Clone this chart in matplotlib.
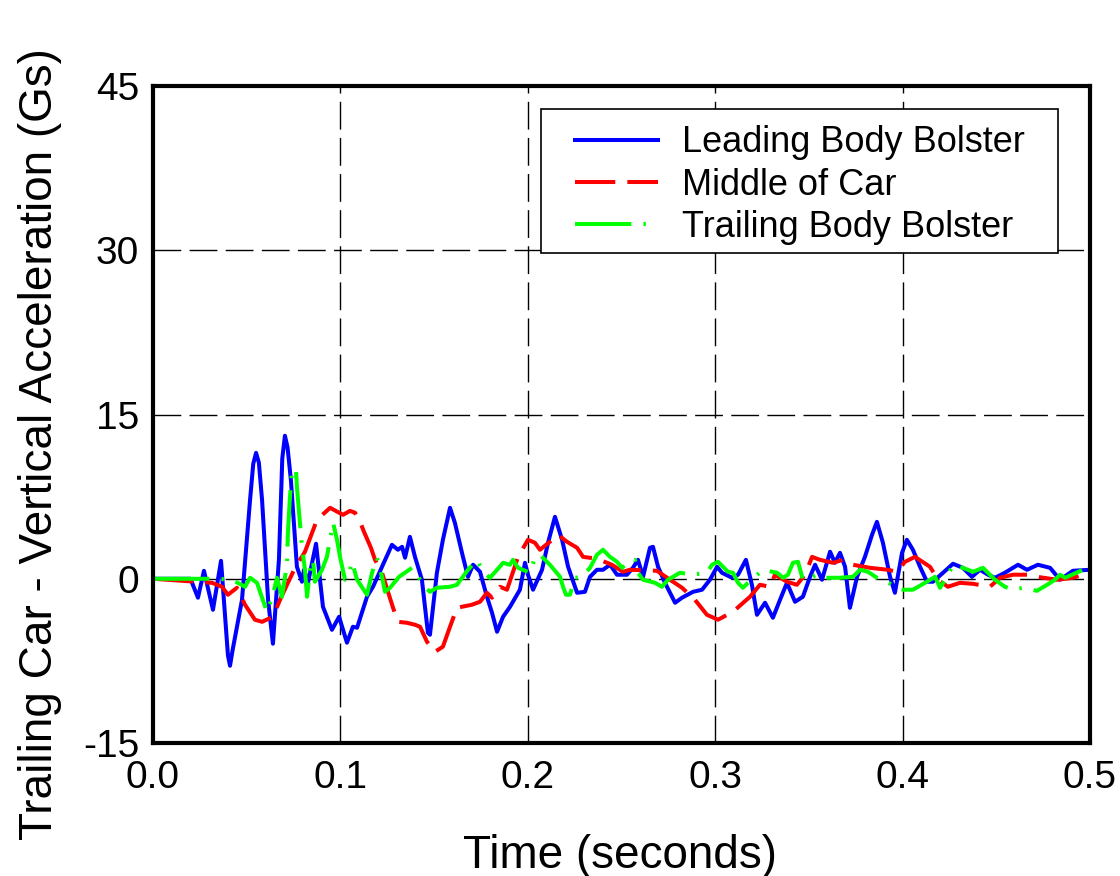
import matplotlib
matplotlib.use("Agg")
import matplotlib.pyplot as plt
from matplotlib.patches import Rectangle

plt.rcParams['font.family'] = ['Liberation Sans', 'DejaVu Sans']

# --- measured signals (time in s, acceleration in Gs)
lead_t = [0.0, 0.020, 0.0240, 0.0272, 0.0320, 0.0363, 0.0385, 0.0400, 0.0411, 0.0425,
          0.0475, 0.0518, 0.0535, 0.0550, 0.0565,
          0.0582, 0.0614, 0.0640, 0.0672, 0.0690, 0.0704, 0.0718, 0.0736, 0.0768, 0.0795,
          0.0806, 0.0827,
          0.0870, 0.0907, 0.0955, 0.0993, 0.1035, 0.1067, 0.1089, 0.1142, 0.1174, 0.1222,
          0.1275, 0.1307, 0.1329, 0.1345, 0.1371, 0.1398, 0.1435, 0.1467, 0.1478, 0.1515,
          0.1547, 0.1585, 0.1611, 0.1654, 0.1681, 0.1708, 0.1745, 0.1782, 0.1809, 0.1836,
          0.1868, 0.1905, 0.1958, 0.1985, 0.2001, 0.2028, 0.2076, 0.2108, 0.2145, 0.2183,
          0.2215, 0.2263, 0.2305, 0.2332, 0.2369, 0.2401, 0.2439, 0.2476, 0.2529, 0.2561,
          0.2588, 0.2615, 0.2652, 0.2668, 0.2695, 0.2732, 0.2786, 0.2823, 0.2882, 0.2930,
          0.2972, 0.3010, 0.3036, 0.3090, 0.3122, 0.3164, 0.3196, 0.3223, 0.3266, 0.3308,
          0.3346, 0.3383, 0.3426, 0.3468, 0.3506, 0.3533, 0.3570, 0.3613, 0.3639, 0.3666,
          0.3693, 0.3719, 0.3757, 0.3799, 0.3837, 0.3863, 0.3895, 0.3933, 0.3959, 0.3997,
          0.4023, 0.4055, 0.4093, 0.4130, 0.4162, 0.4216, 0.4269, 0.4322, 0.4370, 0.4413,
          0.4456, 0.4493, 0.4546, 0.4616, 0.4664, 0.4722, 0.4787, 0.4840, 0.4909, 0.5]
lead_g = [0.0, 0.0, -1.73, 0.73, -2.83, 1.64, -3.5, -7.0, -7.94, -6.5,
          -1.92, 7.21, 10.5, 11.5, 10.6,
          7.2, -1.9, -5.93, 1.73, 11.0, 13.06, 12.0, 9.0, 1.1, -0.27,
          0.82, -0.37,
          3.2, -2.56, -4.66, -3.47, -5.84, -4.38, -4.47, -1.64, -0.73, 1.1,
          3.1, 2.65, 2.92, 1.92, 3.83, 2.0, -0.09, -4.93, -5.11, 0.55,
          3.56, 6.48, 5.11, 2.0, 0.18, 1.28, 0.64, -1.64, -3.1, -4.84,
          -3.47, -2.56, -1.0, 1.46, 0.37, -1.0, 0.82, 3.29, 5.66, 3.56,
          1.1, -1.28, -1.19, 0.18, 0.82, 0.82, 1.28, 0.37, 0.37, 1.0,
          1.73, 0.18, 2.83, 2.92, 1.1, -0.37, -2.19, -1.73, -1.19, -1.0,
          -0.09, 1.1, 0.55, 0.09, 0.37, 1.73, -0.55, -3.29, -2.19, -3.56,
          -1.92, -0.37, -2.1, -1.64, 0.18, 1.28, -0.09, 2.47, 1.46, 2.37,
          1.1, -2.65, 0.18, 2.0, 4.02, 5.2, 3.29, 0.18, -1.28, 2.37,
          3.56, 2.65, 1.1, -0.27, -0.27, 0.55, 1.37, 1.0, 0.18, 0.82,
          0.37, 0.09, 0.55, 1.28, 0.82, 1.28, 1.0, -0.09, 0.73, 0.82]

mid_t = [0.0, 0.0315, 0.0368, 0.0400, 0.0448, 0.0491, 0.0544, 0.0582, 0.0640, 0.0678,
         0.0715, 0.0758, 0.0811, 0.0875, 0.0945, 0.1014, 0.1051, 0.1078, 0.1105, 0.1126,
         0.1163, 0.1185, 0.1222, 0.1254, 0.1281, 0.1307, 0.1355, 0.1398, 0.1425, 0.1462,
         0.1505, 0.1547, 0.1585, 0.1622, 0.1702, 0.1745, 0.1782, 0.1809, 0.1852, 0.1889,
         0.1916, 0.1948, 0.2001, 0.2038, 0.2065, 0.2118, 0.2161, 0.2209, 0.2263, 0.2295,
         0.2369, 0.2449, 0.2508, 0.2545, 0.2689, 0.2759, 0.2823, 0.2892, 0.2956, 0.3015,
         0.3095, 0.3186, 0.3239, 0.3292, 0.3319, 0.3383, 0.3436, 0.3479, 0.3517, 0.3559,
         0.3629, 0.3682, 0.3735, 0.3826, 0.3922, 0.3970, 0.4013, 0.4066, 0.4146, 0.4189,
         0.4242, 0.4306, 0.4376, 0.4466, 0.4520, 0.4589, 0.4664, 0.4717, 0.4824, 0.4909,
         0.4963, 0.5]
mid_g = [0.0, -0.37, -0.73, -1.46, -0.82, -2.37, -3.74, -3.93, -3.47, -1.92,
         -0.55, 1.0, 2.47, 5.39, 6.48, 5.84, 6.2, 6.03, 5.2, 4.29,
         2.83, 1.73, 0.55, -1.19, -2.65, -3.93, -4.02, -4.2, -4.38, -5.75,
         -6.67, -6.2, -4.38, -2.65, -2.37, -2.1, -1.28, -1.73, -0.73, -1.0,
         0.37, 2.0, 3.56, 3.29, 2.65, 3.38, 4.02, 3.38, 2.83, 2.0,
         1.83, 1.28, 0.64, 0.82, 0.73, -0.09, -0.82, -1.92, -3.29, -3.74,
         -3.01, -1.64, -0.55, -0.73, 0.37, -0.27, -0.55, 0.37, 2.0, 1.73,
         1.46, 1.73, 1.28, 1.0, 0.82, 0.64, 1.55, 2.0, 1.1, -0.09,
         -0.73, -0.37, -0.46, -0.73, 0.09, 0.37, 0.37, 0.18, -0.09, 0.09,
         0.37, 0.55]

trail_t = [0.0, 0.0342, 0.0422, 0.0491, 0.0518, 0.0555, 0.0582, 0.0608, 0.0635, 0.0662,
           0.0688, 0.0715, 0.0720, 0.0731, 0.0742, 0.0763, 0.0768, 0.0795, 0.0811, 0.0822,
           0.0838, 0.0854, 0.0864, 0.0902, 0.0928, 0.0961, 0.0982, 0.0998, 0.1025, 0.1041,
           0.1062, 0.1089, 0.1142, 0.1169, 0.1195, 0.1222, 0.1238, 0.1265, 0.1313, 0.1382,
           0.1409, 0.1441, 0.1478, 0.1515, 0.1585, 0.1622, 0.1681, 0.1729, 0.1761, 0.1798,
           0.1836, 0.1868, 0.1905, 0.1921, 0.1948, 0.2012, 0.2038, 0.2065, 0.2118, 0.2172,
           0.2188, 0.2204, 0.2225, 0.2252, 0.2289, 0.2332, 0.2369, 0.2401, 0.2439, 0.2476,
           0.2503, 0.2535, 0.2572, 0.2588, 0.2615, 0.2679, 0.2716, 0.2748, 0.2812, 0.2876,
           0.2956, 0.2983, 0.3015, 0.3068, 0.3095, 0.3122, 0.3148, 0.3175, 0.3255, 0.3330,
           0.3362, 0.3388, 0.3415, 0.3442, 0.3468, 0.3506, 0.3543, 0.3575, 0.3666, 0.3735,
           0.3773, 0.3815, 0.3863, 0.3917, 0.3959, 0.4002, 0.4055, 0.4120, 0.4173, 0.4200,
           0.4237, 0.4269, 0.4322, 0.4376, 0.4429, 0.4493, 0.4546, 0.4589, 0.4643, 0.4717,
           0.4771, 0.4813, 0.4840, 0.4867, 0.4963, 0.5]
trail_g = [0.0, 0.0, -0.09, -0.73, 0.09, -0.37, -1.73, -3.01, -1.73, 0.09,
           -1.64, 1.28, 4.2, 7.49, 9.95, 9.95, 8.4, 2.92, 0.82, -1.64,
           0.82, 1.73, -0.27, 0.82, 2.0, 5.11, 3.56, 2.0, -0.09, 0.18,
           1.55, -0.09, -1.46, 0.55, 1.92, 0.18, -1.19, -0.82, 0.18, 1.0,
           0.37, -0.55, -1.19, -0.82, -0.73, -0.55, 0.82, 1.73, 0.64, 0.09,
           0.82, 1.46, 1.28, 1.73, 1.0, 0.55, 1.92, 2.19, 1.28, 0.18,
           -0.73, -1.46, -1.46, 0.09, 0.18, 1.0, 2.19, 2.65, 2.0, 1.55,
           1.0, 1.55, 1.73, 0.55, -0.09, -0.37, -0.73, -0.09, 0.55, 0.37,
           0.55, 1.28, 1.55, 0.64, 0.55, -0.37, -0.82, -0.37, 0.82, 0.55,
           0.09, 0.37, 1.46, 1.55, -0.09, 0.09, 0.37, 0.09, 0.09, 0.18,
           0.82, 0.64, 0.09, -0.27, -0.73, -1.0, -1.0, -0.37, 0.18, -0.82,
           0.18, 1.28, 1.0, 0.64, 1.0, -0.09, -0.73, -1.0, -0.82, -1.1,
           -0.55, -0.09, 0.37, 0.09, 0.82, 0.82]

series_names = ['Leading Body Bolster', 'Middle of Car', 'Trailing Body Bolster']
x_ticks = [0.0, 0.1, 0.2, 0.3, 0.4, 0.5]
y_ticks = [-15, 0, 15, 30, 45]

fig = plt.figure(figsize=(11.2, 8.76), dpi=100)
ax = fig.add_axes([0.1366, 0.1518, 0.8366, 0.7500])

ax.plot(lead_t, lead_g, color='#0000ff', lw=2.9, label=series_names[0])
ax.plot(mid_t, mid_g, color='#ff0000', lw=2.9, dashes=(10, 3), label=series_names[1])
ax.plot(trail_t, trail_g, color='#00ff00', lw=2.9, dashes=(14, 3, 0.6, 3),
        label=series_names[2])

ax.set_xlim(0, 0.5)
ax.set_ylim(-15, 45)
ax.set_xticks(x_ticks)
ax.set_yticks(y_ticks)
ax.set_xticklabels([f'{v:.1f}' for v in x_ticks])
ax.set_yticklabels([str(v) for v in y_ticks])
ax.tick_params(labelsize=28, length=0)
ax.tick_params(axis='y', pad=10)
ax.tick_params(axis='x', pad=12)

ax.grid(True, color='black', lw=1, linestyle=(0, (20, 6)))
ax.set_axisbelow(True)
for s in ax.spines.values():
    s.set_linewidth(3)

ax.set_xlabel('Time (seconds)', fontsize=33, va='center')
ax.xaxis.set_label_coords(0.498, -0.172)
ax.set_ylabel('Trailing Car - Vertical Acceleration (Gs)', fontsize=33, va='center')
ax.yaxis.set_label_coords(-0.121, 0.455)

leg = ax.legend(loc='upper right', bbox_to_anchor=(0.93, 0.94), fontsize=26,
                frameon=False, borderaxespad=0, borderpad=0,
                handlelength=2.3, handletextpad=0.65, labelspacing=0.2)

# legend box drawn by hand: wide side margins, tight top/bottom
fig.canvas.draw()
bb = leg.get_window_extent().transformed(ax.transAxes.inverted())
pad_x, pad_top, pad_bot = 34 / 937, 16 / 657, 8 / 657
ax.add_patch(Rectangle((bb.x0 - pad_x, bb.y0 - pad_bot), bb.width + 2 * pad_x,
                       bb.height + pad_top + pad_bot, transform=ax.transAxes,
                       facecolor='white', edgecolor='black', lw=1.2, zorder=4))
leg.set_zorder(5)

fig.savefig('out.png', dpi=100)
